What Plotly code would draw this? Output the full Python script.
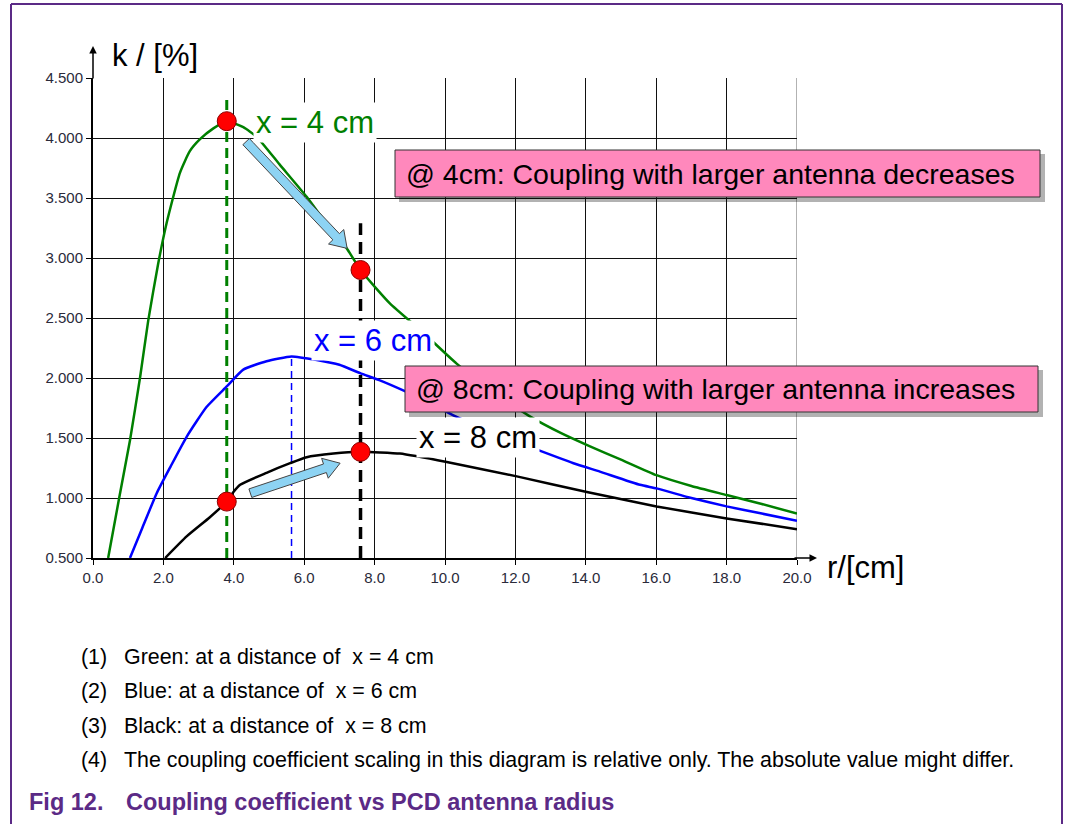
import plotly.graph_objects as go

# Kopplungsfaktor k [%] ueber PCD-Antennenradius r [cm]
r_green = [0.43, 0.75, 1.05, 1.34, 1.57, 1.85, 2.09, 2.47, 2.75, 3.04, 3.42, 3.80, 4.27, 4.65,
           5.30, 6.07, 6.60, 7.21, 7.60, 8.44, 9.30, 10.33, 11.40, 12.41, 13.30, 14.12, 15.00,
           16.01, 17.00, 18.00, 19.00, 20.00]
k_green = [0.50, 1.01, 1.48, 2.01, 2.48, 2.95, 3.29, 3.71, 3.89, 3.99, 4.08, 4.14, 4.09, 4.01,
           3.78, 3.51, 3.30, 3.08, 2.90, 2.62, 2.40, 2.12, 1.88, 1.68, 1.54, 1.43, 1.32,
           1.19, 1.10, 1.025, 0.95, 0.87]

r_blue = [1.05, 1.40, 1.81, 2.20, 2.66, 3.23, 3.80, 4.27, 4.93, 5.64, 6.36, 7.00, 7.59, 8.15,
          8.86, 9.50, 10.30, 11.30, 12.37, 13.65, 14.40, 15.54, 16.01, 17.00, 18.00, 19.00, 20.00]
k_blue = [0.50, 0.75, 1.04, 1.26, 1.51, 1.76, 1.93, 2.07, 2.14, 2.18, 2.15, 2.11, 2.04, 1.98,
          1.89, 1.80, 1.68, 1.55, 1.43, 1.29, 1.22, 1.11, 1.08, 1.00, 0.93, 0.87, 0.81]

r_black = [2.05, 2.66, 3.32, 3.80, 3.99, 4.18, 4.93, 5.60, 6.07, 6.83, 7.60, 8.15, 8.72, 10.05,
           12.04, 14.03, 16.01, 18.00, 20.00]
k_black = [0.50, 0.68, 0.84, 0.97, 1.05, 1.11, 1.21, 1.29, 1.34, 1.37, 1.385, 1.38, 1.37, 1.30,
           1.18, 1.05, 0.93, 0.83, 0.74]

# markierte Punkte
dot_r = [3.80, 7.60, 3.80, 7.60]
dot_k = [4.14, 2.90, 0.97, 1.385]

# Hilfslinien (r, k oben)
vline_green = (3.80, 4.32)
vline_blue = (5.64, 2.18)
vline_black = (7.60, 3.29)

# Pfeile (Start, Spitze) in Datenkoordinaten
arrows = [((4.35, 3.97), (7.22, 3.08)), ((4.47, 1.04), (7.02, 1.29))]

x_ticks = [0, 2, 4, 6, 8, 10, 12, 14, 16, 18, 20]
y_ticks = [0.5, 1.0, 1.5, 2.0, 2.5, 3.0, 3.5, 4.0, 4.5]

notes = ["Green: at a distance of  x = 4 cm",
         "Blue: at a distance of  x = 6 cm",
         "Black: at a distance of  x = 8 cm",
         "The coupling coefficient scaling in this diagram is relative only. The absolute value might differ."]

FONT = "Arial, Liberation Sans, sans-serif"
PURPLE = "#5B2A86"
PINK = "#FF88BC"
ARROW_BLUE = "#8DD3F3"


# Bildschirm-Pixel -> paper (Plotbereich 93..797 / 78..558)
def px(xp):
    return (xp - 93) / 704


def py(yp):
    return (558 - yp) / 480


def d2p(r, k):
    return 93 + r * 35.2, 558 - (k - 0.5) * 120


def label(txt, xp, yp, size, color="black", anchor="center", **kw):
    return dict(x=px(xp), y=py(yp), xref="paper", yref="paper", text=txt, showarrow=False,
                xanchor=anchor, yanchor="middle", font=dict(family=FONT, size=size, color=color), **kw)


def block_arrow(tail, tip, shaft=4.5, head_w=10.5, head_len=16):
    x0, y0 = d2p(*tail)
    x1, y1 = d2p(*tip)
    L = ((x1 - x0) ** 2 + (y1 - y0) ** 2) ** 0.5
    ux, uy = (x1 - x0) / L, (y1 - y0) / L
    nx, ny = -uy, ux
    bx, by = x1 - ux * head_len, y1 - uy * head_len
    pts = [(x0 + nx * shaft, y0 + ny * shaft), (bx + nx * shaft, by + ny * shaft),
           (bx + nx * head_w, by + ny * head_w), (x1, y1),
           (bx - nx * head_w, by - ny * head_w), (bx - nx * shaft, by - ny * shaft),
           (x0 - nx * shaft, y0 - ny * shaft)]
    path = "M " + " L ".join("%.5f,%.5f" % (px(a), py(b)) for a, b in pts) + " Z"
    return dict(type="path", xref="paper", yref="paper", path=path, fillcolor=ARROW_BLUE,
                line=dict(color="#444444", width=1), layer="above")


fig = go.Figure()

for (rv, top), col, w, dash in [(vline_green, "#008000", 3, "10px,6px"),
                                (vline_blue, "#0000FF", 1.5, "7px,5px"),
                                (vline_black, "black", 3.5, "12px,7px")]:
    fig.add_trace(go.Scatter(x=[rv, rv], y=[0.5, top], mode="lines",
                             line=dict(color=col, width=w, dash=dash), hoverinfo="skip"))

for rr, kk, col in [(r_green, k_green, "#008000"), (r_blue, k_blue, "#0000FF"), (r_black, k_black, "black")]:
    fig.add_trace(go.Scatter(x=rr, y=kk, mode="lines",
                             line=dict(color=col, width=2.5, shape="spline", smoothing=0.5)))
fig.add_trace(go.Scatter(x=dot_r, y=dot_k, mode="markers", cliponaxis=False,
                         marker=dict(size=19, color="#FF0000", line=dict(color="#8B0000", width=1))))

ann = []
shapes = [block_arrow(t, h) for t, h in arrows]

# Kurvenbeschriftungen
for txt, col, xp, yp in [("x = 4 cm", "#008000", 315, 122),
                         ("x = 6 cm", "#0000FF", 373, 340),
                         ("x = 8 cm", "black", 478, 437)]:
    ann.append(label(txt, xp, yp, 31, col, bgcolor="white", borderpad=2))

# rosa Kaesten
boxes = [("@ 4cm: Coupling with larger antenna decreases", 395, 1040, 150, 197),
         ("@ 8cm: Coupling with larger antenna increases", 405, 1038, 366, 412)]
for txt, x0, x1, y0, y1 in boxes:
    shapes.append(dict(type="rect", xref="paper", yref="paper", x0=px(x0 + 4), x1=px(x1 + 5),
                       y0=py(y1 + 5), y1=py(y0 + 4), fillcolor="rgba(0,0,0,0.3)",
                       line=dict(width=0), layer="above"))
    shapes.append(dict(type="rect", xref="paper", yref="paper", x0=px(x0), x1=px(x1),
                       y0=py(y1), y1=py(y0), fillcolor=PINK,
                       line=dict(color="#333333", width=1), layer="above"))
    ann.append(label(txt, x0 + 9, (y0 + y1) / 2, 28.5, anchor="left"))

# Achsenpfeile und -titel
ann.append(dict(x=0, y=py(46), xref="paper", yref="paper", ax=0, ay=34, showarrow=True,
                arrowhead=2, arrowsize=1, arrowwidth=1.5, arrowcolor="black", text=""))
ann.append(dict(x=px(817), y=0, xref="paper", yref="paper", ax=-24, ay=0, showarrow=True,
                arrowhead=2, arrowsize=1, arrowwidth=1.5, arrowcolor="black", text=""))
ann.append(label("k / [%]", 110, 55, 31, anchor="left"))
ann.append(label("r/[cm]", 825, 567, 31, anchor="left"))

# Fussnoten
for i, txt in enumerate(notes):
    yy = 657 + 34.3 * i
    ann.append(label("(%d)" % (i + 1), 79, yy, 21.4, anchor="left"))
    ann.append(label(txt, 122, yy, 21.4, anchor="left"))

ann.append(label("<b>Fig 12.</b>", 27, 802, 23.5, PURPLE, anchor="left"))
ann.append(label("<b>Coupling coefficient vs PCD antenna radius</b>", 124, 802, 23.5, PURPLE, anchor="left"))

# rechter Rand des Diagramms (grau) und lila Seitenrahmen
shapes.append(dict(type="line", xref="x", yref="paper", x0=20, x1=20, y0=0, y1=1,
                   line=dict(color="#999999", width=1.5), layer="below"))
for x0, y0, x1, y1 in [(11, 4, 11, 830), (11, 4, 1062, 4), (1062, 4, 1062, 830)]:
    shapes.append(dict(type="line", xref="paper", yref="paper", x0=px(x0), y0=py(y0),
                       x1=px(x1), y1=py(y1), line=dict(color=PURPLE, width=2)))

fig.update_layout(
    width=1066, height=824, showlegend=False,
    margin=dict(l=93, r=269, t=78, b=266),
    paper_bgcolor="white", plot_bgcolor="white",
    xaxis=dict(range=[0, 20], tickvals=x_ticks, tickformat=".1f", showgrid=True,
               gridcolor="#111111", gridwidth=1, showline=True, linecolor="black", linewidth=2,
               ticks="outside", ticklen=5, tickcolor="black", zeroline=False,
               tickfont=dict(family=FONT, size=15, color="#2a2a3a")),
    yaxis=dict(range=[0.5, 4.5], tickvals=y_ticks, tickformat=".3f", showgrid=True,
               gridcolor="#111111", gridwidth=1, showline=True, linecolor="black", linewidth=2,
               ticks="outside", ticklen=5, tickcolor="black", zeroline=False,
               tickfont=dict(family=FONT, size=15, color="#2a2a3a")),
    annotations=ann, shapes=shapes,
)

# Seitenrand des Browsers entfernen, damit die Figur bei (0,0) beginnt
fig.write_html("out.html", config={"displayModeBar": False},
               post_script="document.body.style.margin='0';document.body.style.overflow='hidden';")
